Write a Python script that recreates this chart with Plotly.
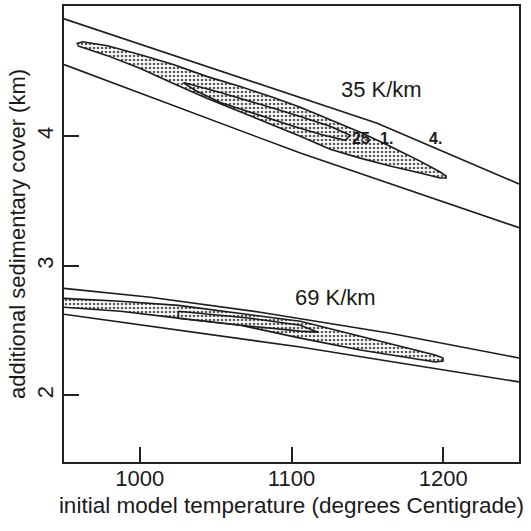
import plotly.graph_objects as go

# ---- data ----
# 35 K/km : outer (4.) contour lines
hi35_upper_x = [950, 1156.5, 1250]
hi35_upper_y = [4.906, 4.10, 3.632]
hi35_lower_x = [950, 1105.8, 1250]
hi35_lower_y = [4.553, 3.870, 3.294]
# 35 K/km : shaded (1.) contour
lens35_x = [958.2, 962.2, 978.6, 1000.4, 1022.1, 1044.5, 1066.2, 1088.0, 1105.8, 1125.5, 1145.3, 1165.0, 1184.8, 1198.0, 1201.9,
            1201.9, 1198.0, 1184.8, 1165.0, 1145.3, 1125.5, 1105.8, 1088.0, 1066.2, 1044.5, 1022.1, 1000.4, 978.6, 964.2, 958.9]
lens35_y = [4.714, 4.729, 4.698, 4.629, 4.553, 4.460, 4.384, 4.299, 4.223, 4.130, 4.031, 3.923, 3.808, 3.724, 3.693,
            3.678, 3.678, 3.716, 3.770, 3.831, 3.900, 4.000, 4.084, 4.184, 4.292, 4.407, 4.522, 4.622, 4.675, 4.698]
# 35 K/km : inner (.25) contour
inner35_x = [1028.7, 1053.1, 1079.4, 1105.8, 1125.5, 1138.7, 1135.4, 1118.9, 1099.2, 1079.4, 1053.1, 1036.6, 1028.7]
inner35_y = [4.414, 4.338, 4.246, 4.153, 4.077, 4.008, 3.969, 4.015, 4.084, 4.161, 4.261, 4.353, 4.414]

# 69 K/km : outer contour lines
hi69_upper_x = [950, 1007.0, 1079.4, 1165.0, 1250]
hi69_upper_y = [2.826, 2.757, 2.642, 2.480, 2.289]
hi69_lower_x = [950, 1026.7, 1105.8, 1171.6, 1250]
hi69_lower_y = [2.626, 2.503, 2.373, 2.250, 2.104]
# 69 K/km : shaded contour
lens69_x = [950, 987.2, 1025.4, 1059.7, 1105.8, 1145.3, 1178.2, 1194.7, 1199.9,
            1199.9, 1194.7, 1178.2, 1145.3, 1105.8, 1066.2, 1025.4, 987.2, 950]
lens69_y = [2.749, 2.726, 2.695, 2.642, 2.572, 2.457, 2.358, 2.312, 2.289,
            2.266, 2.258, 2.289, 2.350, 2.442, 2.542, 2.596, 2.649, 2.680]
# 69 K/km : inner contour
inner69_x = [1025.4, 1072.8, 1105.8, 1117.6, 1105.8, 1072.8, 1025.4, 1025.4]
inner69_y = [2.649, 2.595, 2.542, 2.488, 2.496, 2.534, 2.596, 2.649]

x_ticks = [1000, 1100, 1200]
y_ticks = [2, 3, 4]

gradient_labels = ["35 K/km", "69 K/km"]
gradient_label_x = [1159.1, 1128.8]
gradient_label_y = [4.36, 2.756]
contour_labels = ["25", "1.", "4."]
contour_label_x = [1145.9, 1162.4, 1194.7]
contour_label_y = [3.985, 3.985, 3.985]

LINE = "#1c1c1c"
FONT = "Liberation Sans, Arial, Helvetica, sans-serif"

fig = go.Figure()

pattern = dict(shape=".", size=4, solidity=0.35, fgcolor="#5a5a5a", bgcolor="white", fillmode="replace")

for xs, ys in [(lens35_x, lens35_y), (inner35_x, inner35_y), (lens69_x, lens69_y), (inner69_x, inner69_y)]:
    fig.add_trace(go.Scatter(x=xs, y=ys, mode="lines", fill="toself", fillpattern=pattern,
                             line=dict(color=LINE, width=1.6), hoverinfo="skip", showlegend=False))

for xs, ys in [(hi35_upper_x, hi35_upper_y), (hi35_lower_x, hi35_lower_y),
               (hi69_upper_x, hi69_upper_y), (hi69_lower_x, hi69_lower_y)]:
    fig.add_trace(go.Scatter(x=xs, y=ys, mode="lines", line=dict(color=LINE, width=1.6),
                             hoverinfo="skip", showlegend=False))

for t, x, y in zip(gradient_labels, gradient_label_x, gradient_label_y):
    fig.add_annotation(x=x, y=y, text=t, showarrow=False, font=dict(size=22, color="#1a1a1a", family=FONT))
for t, x, y in zip(contour_labels, contour_label_x, contour_label_y):
    fig.add_annotation(x=x, y=y, text="<b>" + t + "</b>", showarrow=False,
                       font=dict(size=16, color="#1a1a1a", family=FONT))

axis_common = dict(showline=True, linecolor="#222222", linewidth=2.2, mirror=True, showgrid=False,
                   zeroline=False, ticks="inside", ticklen=15, tickwidth=1.5, tickcolor="#222222",
                   tickfont=dict(size=22, color="#1a1a1a", family=FONT))

fig.update_xaxes(range=[950, 1250], tickvals=x_ticks, ticktext=[str(v) for v in x_ticks],
                 title=dict(text="initial model temperature (degrees Centigrade)",
                            font=dict(size=22.5, color="#1a1a1a", family=FONT), standoff=8),
                 ticklabelstandoff=-5, **axis_common)
fig.update_yaxes(range=[1.486, 5.005], tickvals=y_ticks, ticktext=[str(v) for v in y_ticks], tickangle=-90,
                 title=dict(text="additional sedimentary cover (km)",
                            font=dict(size=22, color="#1a1a1a", family=FONT), standoff=1),
                 **axis_common)

fig.update_layout(width=531, height=531, margin=dict(l=63.5, r=12, t=4, b=68.5),
                  plot_bgcolor="white", paper_bgcolor="white", font=dict(family=FONT))

fig.write_html("out.html")
